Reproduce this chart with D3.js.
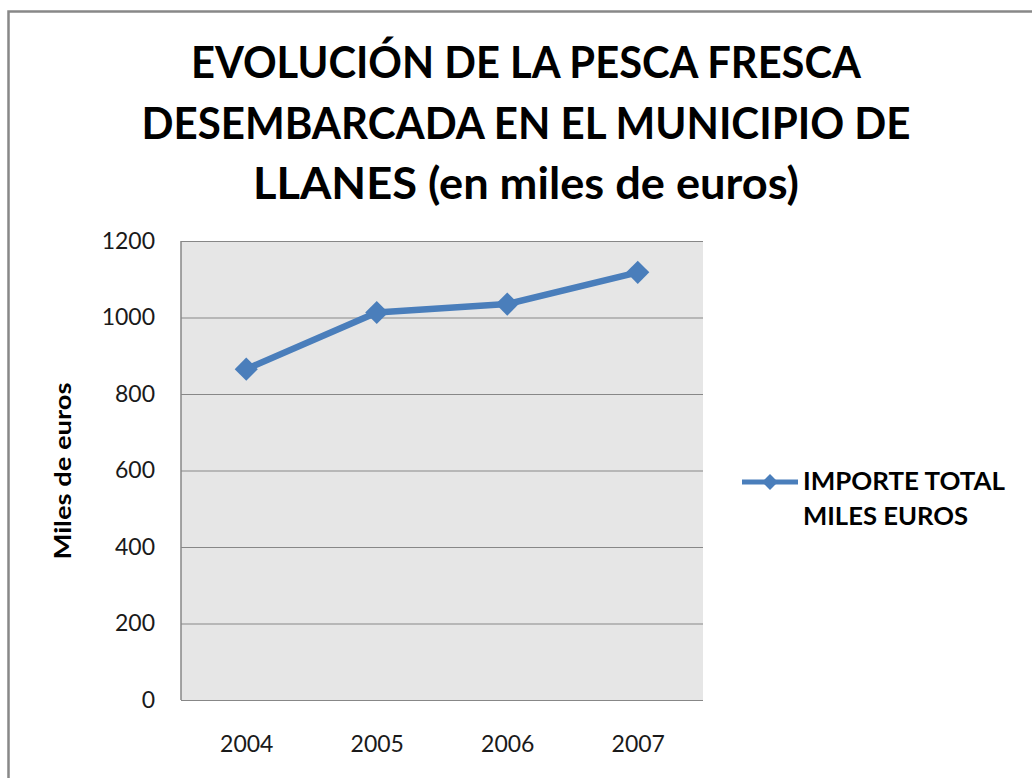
<!DOCTYPE html>
<html>
<head>
<meta charset="utf-8">
<script src="https://cdn.jsdelivr.net/npm/d3@7"></script>
<style>
  body { margin: 0; background: #fff; }
  svg { display: block; font-family: Lato, "Open Sans", sans-serif; }
  .axis path { display: none; }
  .axis text { fill: #1a1a1a; font-size: 23px; font-family: Lato, "Open Sans", sans-serif; }
  .grid line { stroke: #878787; stroke-width: 1.2; }
  .grid path { display: none; }
</style>
</head>
<body>
<script>
// chart values
var years = ["2004", "2005", "2006", "2007"];
var importe = [865, 1013, 1035, 1118];
var yTicks = [0, 200, 400, 600, 800, 1000, 1200];
var titleLines = ["EVOLUCIÓN DE LA PESCA FRESCA", "DESEMBARCADA EN EL MUNICIPIO DE", "LLANES (en miles de euros)"];
var legendLines = ["IMPORTE TOTAL", "MILES EUROS"];

var width = 1032, height = 778;
var plot = { left: 181, right: 703, top: 241, bottom: 700 };
var blue = "#4a7ebb";

var svg = d3.select("body").append("svg")
    .attr("width", width)
    .attr("height", height);

// outer chart frame, runs off the right and bottom edge
svg.append("rect")
    .attr("x", 8.5).attr("y", 11.5)
    .attr("width", 1040).attr("height", 800)
    .attr("fill", "#fff")
    .attr("stroke", "#888")
    .attr("stroke-width", 2.5);

// title
var titleBase = [78, 139, 199];
var titleLen = [670, 769, 546];
svg.selectAll(".title")
    .data(titleLines)
    .enter().append("text")
    .attr("class", "title")
    .attr("x", 526)
    .attr("y", function (d, i) { return titleBase[i]; })
    .attr("text-anchor", "middle")
    .attr("textLength", function (d, i) { return titleLen[i]; })
    .attr("lengthAdjust", "spacingAndGlyphs")
    .style("font-size", "44px")
    .style("font-weight", "bold")
    .attr("fill", "#000")
    .text(function (d) { return d; });

var x = d3.scalePoint()
    .domain(years)
    .range([plot.left, plot.right])
    .padding(0.5);

var y = d3.scaleLinear()
    .domain([0, 1200])
    .range([plot.bottom, plot.top]);

// plot area
svg.append("rect")
    .attr("x", plot.left).attr("y", plot.top)
    .attr("width", plot.right - plot.left)
    .attr("height", plot.bottom - plot.top)
    .attr("fill", "#e6e6e6");

// horizontal gridlines
svg.append("g")
    .attr("class", "grid")
    .attr("transform", "translate(" + plot.left + ",0)")
    .call(d3.axisLeft(y).tickValues(yTicks).tickSize(-(plot.right - plot.left)).tickFormat(""));

// left axis line
svg.append("line")
    .attr("x1", plot.left).attr("x2", plot.left)
    .attr("y1", plot.top).attr("y2", plot.bottom)
    .attr("stroke", "#878787").attr("stroke-width", 1.5);

// y axis labels
svg.append("g")
    .attr("class", "axis")
    .attr("transform", "translate(" + plot.left + ",0)")
    .call(d3.axisLeft(y).tickValues(yTicks).tickFormat(d3.format("d")).tickSize(0).tickPadding(26));

// x axis labels
svg.append("g")
    .attr("class", "axis")
    .attr("transform", "translate(0," + plot.bottom + ")")
    .call(d3.axisBottom(x).tickSize(0).tickPadding(36));

// y axis title
svg.append("text")
    .attr("transform", "translate(71,471) rotate(-90)")
    .attr("text-anchor", "middle")
    .attr("textLength", 177)
    .attr("lengthAdjust", "spacingAndGlyphs")
    .style("font-size", "23px")
    .style("font-weight", "bold")
    .text("Miles de euros");

// series line
var line = d3.line()
    .x(function (d, i) { return x(years[i]); })
    .y(function (d) { return y(d); });

svg.append("path")
    .datum(importe)
    .attr("d", line)
    .attr("fill", "none")
    .attr("stroke", blue)
    .attr("stroke-width", 6.5)
    .attr("stroke-linejoin", "round");

var diamond = d3.symbol().type(d3.symbolDiamond2).size(340);
svg.selectAll(".marker")
    .data(importe)
    .enter().append("path")
    .attr("class", "marker")
    .attr("d", diamond)
    .attr("transform", function (d, i) { return "translate(" + x(years[i]) + "," + y(d) + ")"; })
    .attr("fill", blue);

// legend
var legend = svg.append("g");
legend.append("line")
    .attr("x1", 742).attr("x2", 798)
    .attr("y1", 482).attr("y2", 482)
    .attr("stroke", blue).attr("stroke-width", 5);
legend.append("path")
    .attr("d", d3.symbol().type(d3.symbolDiamond2).size(160))
    .attr("transform", "translate(770,482)")
    .attr("fill", blue);
var legendLen = [202, 165];
legend.selectAll("text")
    .data(legendLines)
    .enter().append("text")
    .attr("x", 803)
    .attr("y", function (d, i) { return 490 + i * 35; })
    .attr("textLength", function (d, i) { return legendLen[i]; })
    .attr("lengthAdjust", "spacingAndGlyphs")
    .style("font-size", "24px")
    .style("font-weight", "bold")
    .text(function (d) { return d; });
</script>
</body>
</html>
